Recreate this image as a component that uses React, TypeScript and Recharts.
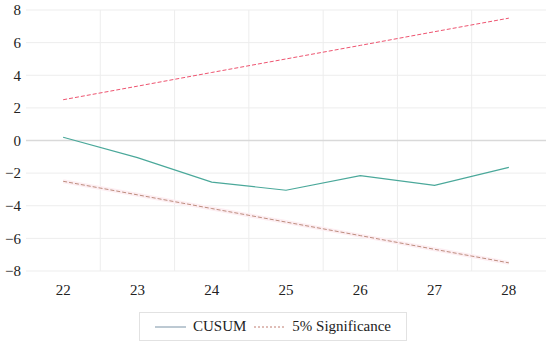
import { LineChart, Line, XAxis, YAxis, CartesianGrid, Legend, ReferenceLine } from 'recharts';

const periods = [22, 23, 24, 25, 26, 27, 28];
const cusum = [0.2, -1.05, -2.55, -3.05, -2.15, -2.75, -1.65];
const upperBound = [2.5, 3.33, 4.17, 5.0, 5.83, 6.67, 7.5];
const lowerBound = [-2.5, -3.33, -4.17, -5.0, -5.83, -6.67, -7.5];
const yTicks = [-8, -6, -4, -2, 0, 2, 4, 6, 8];

const FONT = 'Liberation Serif, DejaVu Serif, serif';

// table for recharts
const chartData = periods.map((p, i) => ({
  period: p,
  cusum: cusum[i],
  upper: upperBound[i],
  lower: lowerBound[i],
}));

// gridlines sit between the periods, not on them
const gridX = periods.slice(1).map((p) => p - 0.5);

function ChartLegend() {
  return (
    <div
      style={{
        display: 'flex',
        alignItems: 'center',
        justifyContent: 'center',
        width: 268,
        height: 29,
        margin: '0 auto',
        border: '1px solid #e2e2e2',
        fontFamily: FONT,
        fontSize: 15,
        color: '#222',
        boxSizing: 'border-box',
      }}
    >
      <svg width={31} height={10} style={{ marginRight: 7 }}>
        <line x1={0} y1={5} x2={31} y2={5} stroke="#7b93a6" strokeWidth={1} />
      </svg>
      <span style={{ marginRight: 8 }}>CUSUM</span>
      <svg width={31} height={10} style={{ marginRight: 7 }}>
        <line x1={0} y1={5} x2={31} y2={5} stroke="#c07c70" strokeWidth={1} strokeDasharray="2 2" />
      </svg>
      <span>5% Significance</span>
    </div>
  );
}

export default function App() {
  return (
    <div style={{ position: 'absolute', left: 0, top: 0, width: 550, height: 349, background: '#fff' }}>
      <LineChart width={550} height={349} data={chartData} margin={{ top: 10, right: 4, bottom: 1, left: 0 }}>
        <CartesianGrid stroke="#ededed" verticalValues={gridX} />
        <ReferenceLine y={0} stroke="#d9d9d9" strokeWidth={1.5} />
        <XAxis
          dataKey="period"
          type="number"
          domain={[21.5, 28.5]}
          ticks={periods}
          axisLine={false}
          tickLine={false}
          tickSize={0}
          tickMargin={13}
          height={41}
          tick={{ fontFamily: FONT, fontSize: 15, fill: '#222' }}
        />
        <YAxis
          type="number"
          domain={[-8, 8]}
          ticks={yTicks}
          axisLine={false}
          tickLine={false}
          tickSize={0}
          tickMargin={5}
          width={26}
          tickFormatter={(v: number) => String(v).replace('-', '\u2212')}
          tick={{ fontFamily: FONT, fontSize: 15, fill: '#222' }}
        />
        <Legend verticalAlign="bottom" height={36} content={() => <ChartLegend />} />
        <Line
          dataKey="lower"
          stroke="#fdeef2"
          strokeWidth={4}
          dot={false}
          legendType="none"
          isAnimationActive={false}
        />
        <Line
          dataKey="lower"
          name="5% Significance"
          stroke="#bd8d7e"
          strokeWidth={1}
          strokeDasharray="4 2"
          dot={false}
          isAnimationActive={false}
        />
        <Line
          dataKey="upper"
          stroke="#ee5470"
          strokeWidth={1}
          strokeDasharray="4 2"
          dot={false}
          legendType="none"
          isAnimationActive={false}
        />
        <Line
          dataKey="cusum"
          name="CUSUM"
          stroke="#4aa89a"
          strokeWidth={1.2}
          dot={false}
          isAnimationActive={false}
        />
      </LineChart>
    </div>
  );
}
